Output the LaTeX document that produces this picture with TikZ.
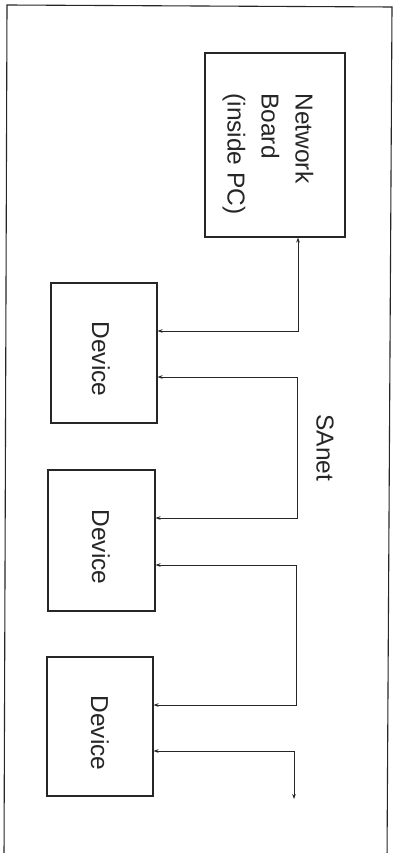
\documentclass[tikz,border=0pt]{standalone}
\usepackage{fontspec}
\setmainfont{Liberation Sans}
\usetikzlibrary{arrows.meta}
\begin{document}
\begin{tikzpicture}[x=1pt,y=-1pt,
  frame/.style={line width=1.1pt, draw=black!85},
  box/.style={draw=black!85, line width=1.1pt, inner sep=0pt},
  lbl/.style={font=\fontsize{24.5}{34}\selectfont, rotate=-90, inner sep=0pt, text=black!85},
  link/.style={draw=black!85, line width=0.9pt, {Stealth[length=5pt,width=3.6pt]}-{Stealth[length=5pt,width=3.6pt]}}]
\useasboundingbox (0,0) rectangle (395,853);
\fill[white] (0,0) rectangle (395,853);
% outer frame (open at bottom edge of page)
\coordinate (fbl) at (4,860);
\coordinate (ftl) at (7,5);
\coordinate (ftr) at (392,7);
\coordinate (fbr) at (387,860);
\draw[frame] (fbl) -- (ftl) -- (ftr) -- (fbr);
% boxes
\node[box, minimum width=140pt, minimum height=184pt] (board) at (275,145) {};
\node[box, minimum width=106pt, minimum height=140pt] (d1) at (104,353) {};
\node[box, minimum width=107pt, minimum height=141pt] (d2) at (101.5,540.5) {};
\node[box, minimum width=106pt, minimum height=139pt] (d3) at (100,726.5) {};
% texts
\node[lbl, align=left] (boardtxt) at (268,154) {Network\\Board\\(inside PC)};
\node[lbl] (d1txt) at (101,359) {Device};
\node[lbl] (d2txt) at (101,547) {Device};
\node[lbl] (d3txt) at (100,733) {Device};
\node[lbl] (sanet) at (325,448) {SAnet};
% connector corner points
\coordinate (b1) at (298,331);
\coordinate (r1) at (297,377);
\coordinate (r2) at (297,518);
\coordinate (s1) at (296,565);
\coordinate (s2) at (296,705);
\coordinate (t1) at (294,751);
\coordinate (tend) at (294,799);
% connectors
\draw[link] (board.south -| b1) -- (b1) -- (d1.east |- b1);
\draw[link] (d1.east |- r1) -- (r1) -- (r2) -- (d2.east |- r2);
\draw[link] (d2.east |- s1) -- (s1) -- (s2) -- (d3.east |- s2);
\draw[link] (d3.east |- t1) -- (t1) -- (tend);
\end{tikzpicture}
\end{document}
